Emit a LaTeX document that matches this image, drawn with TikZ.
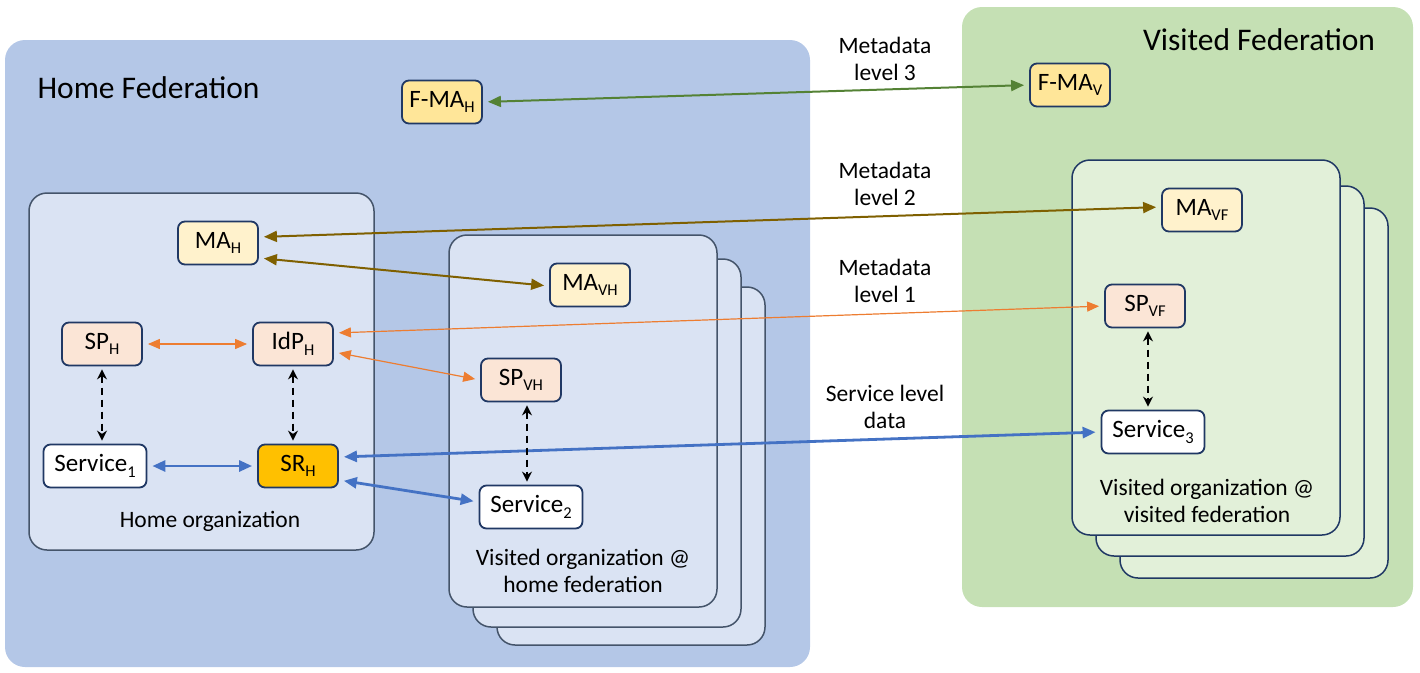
\documentclass[tikz,border=0pt]{standalone}
\usepackage{fontspec}
\setmainfont{Carlito}
\usetikzlibrary{arrows.meta}
\definecolor{homefed}{HTML}{B4C7E7}
\definecolor{visfed}{HTML}{C5E0B4}
\definecolor{homeorg}{HTML}{DAE3F3}
\definecolor{visorg}{HTML}{E2F0D9}
\definecolor{orgline}{HTML}{44546A}
\definecolor{navy}{HTML}{203864}
\definecolor{fmafill}{HTML}{FFE699}
\definecolor{mafill}{HTML}{FFF2CC}
\definecolor{spfill}{HTML}{FBE5D6}
\definecolor{srfill}{HTML}{FFC000}
\definecolor{grnline}{HTML}{548235}
\definecolor{brnline}{HTML}{7F6000}
\definecolor{orgarrow}{HTML}{ED7D31}
\definecolor{bluline}{HTML}{4472C4}
\newcommand{\sbs}[1]{\raisebox{-0.22em}{\fontsize{16.5}{16.5}\selectfont #1}}
\tikzset{
  orgbox/.style={rounded corners=18pt, draw=orgline, line width=1.5pt},
  vorgbox/.style={rounded corners=18pt, draw=navy, line width=1.5pt, fill=visorg},
  nd/.style={draw=navy, line width=1.8pt, rounded corners=7pt, minimum width=80pt,
    minimum height=43pt, inner sep=2pt, font=\fontsize{25}{29}\selectfont},
  svc/.style={nd, minimum width=103pt, fill=white},
  lbl/.style={align=center, font=\fontsize{23.5}{27.5}\selectfont},
  fedlbl/.style={font=\fontsize{31.5}{36}\selectfont},
  grn/.style={draw=grnline, line width=2pt, shorten <=5pt, shorten >=5pt,
    arrows={Triangle[length=13pt,width=11pt]-Triangle[length=13pt,width=11pt]}},
  brn/.style={draw=brnline, line width=2pt, shorten <=5pt, shorten >=5pt,
    arrows={Triangle[length=13pt,width=11pt]-Triangle[length=13pt,width=11pt]}},
  org/.style={draw=orgarrow, line width=1.2pt, shorten <=5pt, shorten >=5pt,
    arrows={Triangle[length=12pt,width=10pt]-Triangle[length=12pt,width=10pt]}},
  blu/.style={draw=bluline, line width=2.8pt, shorten <=5pt, shorten >=5pt,
    arrows={Triangle[length=13pt,width=11pt]-Triangle[length=13pt,width=11pt]}},
  dsh/.style={draw=black, line width=2pt, dash pattern=on 7pt off 5pt,
    shorten <=3pt, shorten >=3pt,
    arrows={Stealth[length=10pt,width=10pt]-Stealth[length=10pt,width=10pt]}}
}
\begin{document}
\begin{tikzpicture}[x=1pt,y=-1pt]
\useasboundingbox (0,0) rectangle (1420,672);
% federations
\fill[homefed, rounded corners=20pt] (5,40) rectangle (810,667);
\fill[visfed, rounded corners=20pt] (962,7) rectangle (1413,607);
\node[fedlbl, anchor=west] (lhome) at (34,88) {Home Federation};
\node[fedlbl] (lvis) at (1259,40) {Visited Federation};
% home organization
\draw[orgbox, fill=homeorg] (29,193) rectangle (374,550);
\node[lbl] (lhorg) at (210,521) {Home organization};
% visited organization @ home federation (stack)
\draw[orgbox, fill=homeorg] (497,287) rectangle (765,645);
\draw[orgbox, fill=homeorg] (473,259) rectangle (741,627);
\draw[orgbox, fill=homeorg] (449,235) rectangle (717,607);
\node[lbl] (lvhorg) at (583,571) {Visited organization @\\home federation};
% visited organization @ visited federation (stack)
\draw[vorgbox] (1120,208) rectangle (1388,578);
\draw[vorgbox] (1096,186) rectangle (1364,556);
\draw[vorgbox] (1072,160) rectangle (1340,535);
\node[lbl] (lvvorg) at (1207,501) {Visited organization @\\visited federation};
% labels between
\node[lbl] (l3) at (885,59) {Metadata\\level 3};
\node[lbl] (l2) at (885,184) {Metadata\\level 2};
\node[lbl] (l1) at (885,281) {Metadata\\level 1};
\node[lbl] (l0) at (885,407) {Service level\\data};
% nodes
\node[nd, fill=fmafill] (FMAH) at (442,102) {F-MA\sbs{H}};
\node[nd, fill=fmafill] (FMAV) at (1070,85) {F-MA\sbs{V}};
\node[nd, fill=mafill] (MAH) at (218,243) {MA\sbs{H}};
\node[nd, fill=mafill] (MAVH) at (590,285) {MA\sbs{VH}};
\node[nd, fill=mafill] (MAVF) at (1202,210) {MA\sbs{VF}};
\node[nd, fill=spfill] (SPH) at (102,344) {SP\sbs{H}};
\node[nd, fill=spfill] (IdPH) at (293,344) {IdP\sbs{H}};
\node[nd, fill=spfill] (SPVH) at (521,380) {SP\sbs{VH}};
\node[nd, fill=spfill] (SPVF) at (1145,306) {SP\sbs{VF}};
\node[svc] (S1) at (95,466) {Service\sbs{1}};
\node[nd, fill=srfill] (SRH) at (298,466) {SR\sbs{H}};
\node[svc] (S2) at (531,507) {Service\sbs{2}};
\node[svc] (S3) at (1153,432) {Service\sbs{3}};
% connectors
\draw[grn] (FMAH.east) -- (FMAV.west);
\draw[brn] ([yshift=6pt]MAH.east) -- ([yshift=3pt]MAVF.west);
\draw[brn] ([yshift=-15pt]MAH.east) -- ([yshift=-1pt]MAVH.west);
\draw[org] (SPH.east) -- (IdPH.west);
\draw[org] ([yshift=11pt]IdPH.east) -- (SPVF.west);
\draw[org] ([yshift=-8pt]IdPH.east) -- (SPVH.west);
\draw[blu] (S1.east) -- (SRH.west);
\draw[blu] ([yshift=9pt]SRH.east) -- (S3.west);
\draw[blu] ([yshift=-14pt]SRH.east) -- ([yshift=5pt]S2.west);
\coordinate (dA) at (SPH.south);
\coordinate (dB) at (IdPH.south);
\coordinate (dC) at ([xshift=6pt]SPVH.south);
\coordinate (dD) at ([xshift=3pt]SPVF.south);
\draw[dsh] (dA) -- (dA |- S1.north);
\draw[dsh] (dB) -- (dB |- SRH.north);
\draw[dsh] (dC) -- (dC |- S2.north);
\draw[dsh] (dD) -- (dD |- S3.north);
\end{tikzpicture}
\end{document}
